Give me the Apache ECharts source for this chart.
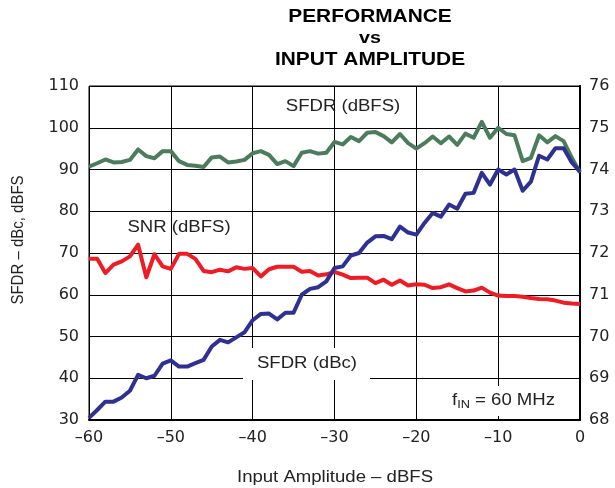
<!DOCTYPE html>
<html>
<head>
<meta charset="utf-8">
<script src="https://cdn.jsdelivr.net/npm/echarts@6/dist/echarts.min.js"></script>
<style>
  html, body { margin: 0; padding: 0; background: #fff; }
  #chart { width: 615px; height: 488px; }
</style>
</head>
<body>
<div id="chart"></div>
<script>
// Input amplitude sweep, dBFS, 1 dB steps
const amplitude = [];
for (let a = -60; a <= 0; a++) amplitude.push(a);

// SFDR in dBFS (left axis)
const sfdrDbfs = [
  90.7, 91.5, 92.4, 91.7, 91.8, 92.3, 94.8, 93.2, 92.7, 94.4, 94.4,
  92.0, 91.1, 90.9, 90.6, 92.9, 93.1, 91.7, 91.9, 92.3, 93.9,
  94.4, 93.5, 91.3, 92.0, 90.8, 94.0, 94.4, 93.8, 94.0, 96.6,
  96.0, 97.8, 96.8, 98.8, 99.0, 98.0, 96.5, 98.5, 96.3, 95.0,
  96.3, 97.9, 96.3, 97.9, 95.9, 98.6, 97.6, 101.4, 97.6, 100.0,
  98.5, 98.2, 92.0, 92.8, 98.2, 96.5, 98.0, 96.8, 92.8, 89.3
];

// SFDR in dBc (left axis)
const sfdrDbc = [
  30.5, 32.4, 34.4, 34.4, 35.4, 37.0, 40.8, 40.0, 40.6, 43.5, 44.3,
  42.8, 42.8, 43.6, 44.4, 47.6, 49.2, 48.6, 49.8, 51.0, 53.9,
  55.4, 55.5, 54.1, 55.7, 55.7, 60.0, 61.4, 61.8, 63.2, 66.4,
  66.8, 69.4, 70.0, 72.5, 74.0, 74.1, 73.3, 76.3, 74.9, 74.4,
  77.2, 79.6, 78.7, 81.6, 80.6, 84.2, 84.4, 89.2, 86.4, 90.0,
  88.8, 90.0, 84.9, 87.1, 93.3, 92.4, 95.1, 95.1, 91.7, 89.5
];

// SNR in dBFS (right axis)
const snrDbfs = [
  71.86, 71.86, 71.52, 71.72, 71.80, 71.92, 72.20, 71.42, 71.97, 71.68, 71.62,
  71.98, 71.98, 71.86, 71.57, 71.54, 71.60, 71.56, 71.66, 71.62, 71.64,
  71.44, 71.61, 71.67, 71.67, 71.67, 71.55, 71.57, 71.46, 71.49, 71.55,
  71.48, 71.40, 71.41, 71.41, 71.28, 71.36, 71.24, 71.34, 71.22, 71.25,
  71.24, 71.16, 71.18, 71.25, 71.16, 71.08, 71.10, 71.17, 71.05, 70.98,
  70.97, 70.97, 70.95, 70.92, 70.90, 70.89, 70.86, 70.81, 70.79, 70.78
];

const pairs = (ys) => amplitude.map((x, i) => [x, ys[i]]);

const TICK_FONT = 'DejaVu Sans, sans-serif';
const FONT = 'Liberation Sans, Arial, Helvetica, sans-serif';
const WIDE = 1.16; // horizontal stretch of the lettering

// Centered, horizontally widened text element
function label(text, x, y, size, opts = {}) {
  return {
    type: 'text', x, y, z: 10, scaleX: opts.rotate ? 1 : WIDE, scaleY: opts.rotate ? WIDE : 1,
    rotation: opts.rotate || 0,
    style: {
      text, fontFamily: FONT, fontSize: size, fontWeight: opts.bold ? 'bold' : 'normal',
      fill: opts.color || '#222', align: opts.align || 'center', verticalAlign: 'middle',
      rich: opts.rich
    }
  };
}

const chart = echarts.init(document.getElementById('chart'), null, { renderer: 'canvas' });

chart.setOption({
  animation: false,
  backgroundColor: '#fff',
  grid: {
    left: 89, right: 35, top: 86, bottom: 68,
    show: true, borderColor: '#000', borderWidth: 1
  },
  xAxis: {
    type: 'value', min: -60, max: 0, interval: 10,
    axisLine: { onZero: false, lineStyle: { color: '#000', width: 2 } },
    axisTick: { show: false },
    axisLabel: {
      fontFamily: TICK_FONT, fontSize: 16, color: '#222', margin: 10,
      formatter: v => (v < 0 ? '\u2013' + Math.abs(v) : String(v))
    },
    splitLine: { show: true, lineStyle: { color: '#000', width: 1 } }
  },
  yAxis: [
    {
      type: 'value', min: 30, max: 110, interval: 10, position: 'left',
      axisLine: { show: true, lineStyle: { color: '#000', width: 2 } },
      axisTick: { show: false },
      axisLabel: { fontFamily: TICK_FONT, fontSize: 16, color: '#222', margin: 10 },
      splitLine: { show: true, lineStyle: { color: '#000', width: 1 } }
    },
    {
      type: 'value', min: 68, max: 76, interval: 1, position: 'right',
      axisLine: { show: true, lineStyle: { color: '#000', width: 2 } },
      axisTick: { show: false },
      axisLabel: { fontFamily: TICK_FONT, fontSize: 16, color: '#222', margin: 9 },
      splitLine: { show: false }
    }
  ],
  series: [
    {
      name: 'SFDR (dBFS)', type: 'line', yAxisIndex: 0, data: pairs(sfdrDbfs),
      showSymbol: false, lineStyle: { color: '#4b7d5c', width: 4, join: 'round' }, z: 3
    },
    {
      name: 'SNR (dBFS)', type: 'line', yAxisIndex: 1, data: pairs(snrDbfs),
      showSymbol: false, lineStyle: { color: '#ee1c25', width: 4, join: 'round' }, z: 3
    },
    {
      name: 'SFDR (dBc)', type: 'line', yAxisIndex: 0, data: pairs(sfdrDbc),
      showSymbol: false, lineStyle: { color: '#2e3192', width: 4, join: 'round' }, z: 4
    }
  ],
  graphic: [
    // title
    label('PERFORMANCE', 370, 17, 18, { bold: true, color: '#000' }),
    label('vs', 370, 38, 17, { bold: true, color: '#000' }),
    label('INPUT AMPLITUDE', 370, 60, 18, { bold: true, color: '#000' }),
    // axis names
    label('Input Amplitude \u2013 dBFS', 335, 478, 16),
    label('SFDR \u2013 dBc, dBFS', 18, 240, 15, { rotate: Math.PI / 2 }),
    // curve annotations
    label('SFDR (dBFS)', 343, 107, 16),
    label('SNR (dBFS)', 179, 228, 16),
    { type: 'rect', z: 8, shape: { x: 243, y: 348, width: 127, height: 32 }, style: { fill: '#fff' } },
    label('SFDR (dBc)', 307, 364, 16),
    { type: 'rect', z: 8, shape: { x: 440, y: 386, width: 136, height: 30 }, style: { fill: '#fff' } },
    label('{f|f}{s|IN}{f| = 60 MHz}', 452, 401, 16, {
      align: 'left',
      rich: {
        f: { fontFamily: FONT, fontSize: 16, fill: '#222' },
        s: { fontFamily: FONT, fontSize: 11, fill: '#222', padding: [8, 0, 0, 0] }
      }
    })
  ]
});
</script>
</body>
</html>
